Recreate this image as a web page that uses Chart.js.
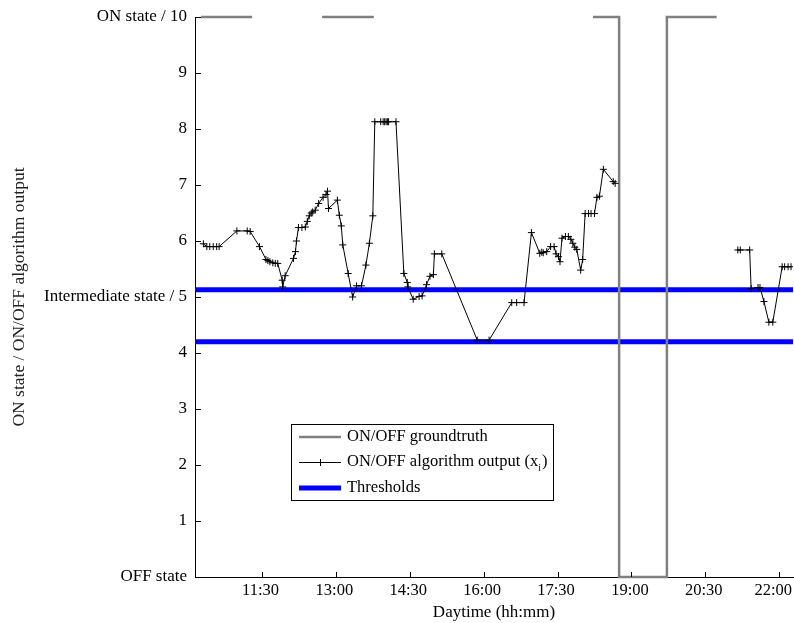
<!DOCTYPE html>
<html>
<head>
<meta charset="utf-8">
<script src="https://cdn.jsdelivr.net/npm/chart.js@4.4.0/dist/chart.umd.min.js"></script>
<style>
  html, body { margin: 0; padding: 0; background: #fff; }
  #wrap { width: 794px; height: 623px; }
</style>
</head>
<body>
<div id="wrap"><canvas id="myChart" width="794" height="623"></canvas></div>
<script>
// time in hours of day, values on the 0..10 scale
const algoTime = [10.31, 10.38, 10.44, 10.51, 10.58, 10.63, 10.99, 11.20, 11.26, 11.45,
    11.58, 11.62, 11.66, 11.72, 11.77, 11.82, 11.91, 11.92, 11.97, 12.14,
    12.18, 12.20, 12.24, 12.31, 12.38, 12.42, 12.46, 12.50, 12.53, 12.58,
    12.65, 12.74, 12.80, 12.83, 12.85, 13.03, 13.07, 13.11, 13.14, 13.25,
    13.34, 13.42, 13.52, 13.61, 13.68, 13.75, 13.79, 13.91, 13.96, 13.99,
    14.02, 14.05, 14.07, 14.22, 14.38, 14.45, 14.46, 14.57, 14.69, 14.75,
    14.84, 14.91, 14.98, 15.00, 15.15, 15.87, 16.11, 16.57, 16.67, 16.82,
    16.97, 17.14, 17.18, 17.21, 17.28, 17.36, 17.43, 17.47, 17.52, 17.55,
    17.59, 17.66, 17.72, 17.77, 17.81, 17.85, 17.89, 17.97, 18.01, 18.06,
    18.13, 18.18, 18.25, 18.30, 18.35, 18.43, 18.63, 18.67, 19.50,
    21.16, 21.21, 21.40, 21.43, 21.57, 21.61, 21.69, 21.79, 21.87, 22.06,
    22.11, 22.18, 22.24];
const algoValue = [5.95, 5.90, 5.90, 5.90, 5.90, 5.90, 6.18, 6.18, 6.17, 5.90,
    5.67, 5.65, 5.63, 5.61, 5.60, 5.60, 5.30, 5.18, 5.38, 5.69,
    5.81, 6.00, 6.24, 6.24, 6.25, 6.35, 6.45, 6.50, 6.52, 6.55,
    6.67, 6.78, 6.83, 6.89, 6.58, 6.73, 6.46, 6.27, 5.93, 5.42,
    5.00, 5.20, 5.20, 5.57, 5.96, 6.45, 8.13, 8.13, 8.13, 8.13,
    8.13, 8.13, 8.13, 8.13, 5.42, 5.26, 5.18, 4.96, 5.01, 5.02,
    5.22, 5.37, 5.40, 5.77, 5.77, 4.23, 4.23, 4.90, 4.90, 4.90,
    6.15, 5.78, 5.80, 5.79, 5.81, 5.90, 5.90, 5.77, 5.72, 5.63,
    6.05, 6.08, 6.08, 6.03, 5.96, 5.89, 5.85, 5.48, 5.67, 6.49,
    6.49, 6.49, 6.49, 6.78, 6.80, 7.28, 7.06, 7.03, null,
    5.84, 5.84, 5.84, 5.15, 5.17, 5.17, 4.92, 4.55, 4.55, 5.54,
    5.54, 5.54, 5.54];

const gtTime = [10.26, 11.30, 11.31, 12.72, 13.77, 13.78, 18.22, 18.75, 18.75, 19.72, 19.72, 20.73];
const gtValue = [10, 10, null, 10, 10, null, 10, 10, 0, 0, 10, 10];

const thresholds = [5.13, 4.2];

const xMin = 10.14;
const xMax = 22.28;
const xTickValues = [11.5, 13, 14.5, 16, 17.5, 19, 20.5, 22];
const xTickLabels = ['11:30', '13:00', '14:30', '16:00', '17:30', '19:00', '20:30', '22:00'];
const yTickLabels = ['OFF state', '1', '2', '3', '4', 'Intermediate state / 5', '6', '7', '8', '9', 'ON state / 10'];

const FONT = "'Liberation Serif', 'DejaVu Serif', serif";
const GRAY = 'rgb(128,128,128)';
const BLUE = 'rgb(0,0,255)';

function pts(xs, ys) {
    return xs.map((x, i) => ({x: x, y: ys[i]}));
}

const datasets = [];
thresholds.forEach(t => {
    datasets.push({
        label: 'Thresholds',
        data: [{x: xMin, y: t}, {x: xMax, y: t}],
        borderColor: BLUE,
        borderWidth: 5,
        pointRadius: 0,
        order: 3
    });
});
datasets.push({
    label: 'ON/OFF groundtruth',
    data: pts(gtTime, gtValue),
    borderColor: GRAY,
    borderWidth: 2.5,
    pointRadius: 0,
    spanGaps: false,
    clip: 4,
    order: 2
});
datasets.push({
    label: 'ON/OFF algorithm output',
    data: pts(algoTime, algoValue),
    borderColor: '#000',
    borderWidth: 1,
    pointStyle: 'cross',
    pointRadius: 3.5,
    pointBorderColor: '#000',
    pointBorderWidth: 1,
    spanGaps: false,
    order: 1
});

// MATLAB style ticks pointing into the plot, x labels kept inside the canvas
const inwardTicks = {
    id: 'inwardTicks',
    afterDraw(chart) {
        const ctx = chart.ctx;
        const a = chart.chartArea;
        const xs = chart.scales.x, ys = chart.scales.y;
        ctx.save();
        ctx.strokeStyle = '#000';
        ctx.lineWidth = 1;
        ctx.beginPath();
        xs.ticks.forEach(t => {
            const px = Math.round(xs.getPixelForValue(t.value)) + 0.5;
            ctx.moveTo(px, a.bottom);
            ctx.lineTo(px, a.bottom - 5);
        });
        ys.ticks.forEach(t => {
            const py = Math.round(ys.getPixelForValue(t.value)) + 0.5;
            ctx.moveTo(a.left, py);
            ctx.lineTo(a.left + 6, py);
        });
        ctx.stroke();

        ctx.font = '16.5px ' + FONT;
        ctx.fillStyle = '#000';
        ctx.textBaseline = 'middle';
        ctx.textAlign = 'center';
        xs.ticks.forEach((t, i) => {
            const label = xTickLabels[i];
            const half = ctx.measureText(label).width / 2;
            let px = xs.getPixelForValue(t.value) - 1.5;
            px = Math.min(px, chart.width - 2 - half);
            ctx.fillText(label, px, a.bottom + 14);
        });
        ctx.restore();
    }
};

// boxed legend inside the axes
const boxLegend = {
    id: 'boxLegend',
    afterDraw(chart) {
        const ctx = chart.ctx;
        const bx = 291, by = 424, bw = 262, bh = 76;
        ctx.save();
        ctx.fillStyle = '#fff';
        ctx.fillRect(bx, by, bw, bh);
        ctx.strokeStyle = '#000';
        ctx.lineWidth = 1;
        ctx.strokeRect(bx + 0.5, by + 0.5, bw, bh);

        const rows = [437, 462, 488];
        const x0 = 299, x1 = 341;
        ctx.font = '16.5px ' + FONT;
        ctx.fillStyle = '#000';
        ctx.textBaseline = 'middle';

        ctx.strokeStyle = GRAY; ctx.lineWidth = 2.5;
        ctx.beginPath(); ctx.moveTo(x0, rows[0]); ctx.lineTo(x1, rows[0]); ctx.stroke();
        ctx.fillText('ON/OFF groundtruth', 347, rows[0]);

        ctx.strokeStyle = '#000'; ctx.lineWidth = 1;
        ctx.beginPath(); ctx.moveTo(x0, rows[1] + 0.5); ctx.lineTo(x1, rows[1] + 0.5);
        ctx.moveTo(320.5, rows[1] - 3); ctx.lineTo(320.5, rows[1] + 4);
        ctx.stroke();
        const txt = 'ON/OFF algorithm output (x';
        ctx.fillText(txt, 347, rows[1]);
        let w = ctx.measureText(txt).width;
        ctx.font = '10px ' + FONT;
        ctx.fillText('i', 347 + w, rows[1] + 6);
        const wi = ctx.measureText('i').width;
        ctx.font = '16.5px ' + FONT;
        ctx.fillText(')', 347 + w + wi + 1, rows[1]);

        ctx.strokeStyle = BLUE; ctx.lineWidth = 5;
        ctx.beginPath(); ctx.moveTo(x0, rows[2]); ctx.lineTo(x1, rows[2]); ctx.stroke();
        ctx.fillText('Thresholds', 347, rows[2]);
        ctx.restore();
    }
};

const config = {
    type: 'line',
    data: {datasets: datasets},
    options: {
        responsive: false,
        animation: false,
        layout: {autoPadding: false, padding: {top: 17, right: 1, left: 0, bottom: 0}},
        plugins: {legend: {display: false}, tooltip: {enabled: false}},
        scales: {
            x: {
                type: 'linear',
                min: xMin,
                max: xMax,
                afterBuildTicks: scale => { scale.ticks = xTickValues.map(v => ({value: v})); },
                afterFit: scale => { scale.height = 46; scale.paddingRight = 0; scale.paddingLeft = 0; },
                grid: {drawOnChartArea: false, drawTicks: false},
                border: {color: '#000', width: 1},
                ticks: {
                    display: false,
                    padding: 6,
                    font: {family: FONT, size: 16},
                    maxRotation: 0
                },
                title: {
                    display: true,
                    text: 'Daytime (hh:mm)',
                    color: '#000',
                    font: {family: FONT, size: 17},
                    padding: {top: 27, bottom: 0}
                }
            },
            y: {
                type: 'linear',
                min: 0,
                max: 10,
                afterBuildTicks: scale => { scale.ticks = yTickLabels.map((l, i) => ({value: i})); },
                afterFit: scale => { scale.width = 195; scale.paddingTop = 0; scale.paddingBottom = 0; },
                grid: {drawOnChartArea: false, drawTicks: false},
                border: {color: '#000', width: 1},
                ticks: {
                    padding: 8,
                    color: '#000',
                    font: {family: FONT, size: 17},
                    callback: (v, i) => yTickLabels[i]
                },
                title: {
                    display: true,
                    text: 'ON state / ON/OFF algorithm output',
                    color: '#222',
                    font: {family: FONT, size: 17.5},
                    padding: {top: 9, bottom: 0}
                }
            }
        }
    },
    plugins: [inwardTicks, boxLegend]
};

const myChart = new Chart(document.getElementById('myChart').getContext('2d'), config);
</script>
</body>
</html>
